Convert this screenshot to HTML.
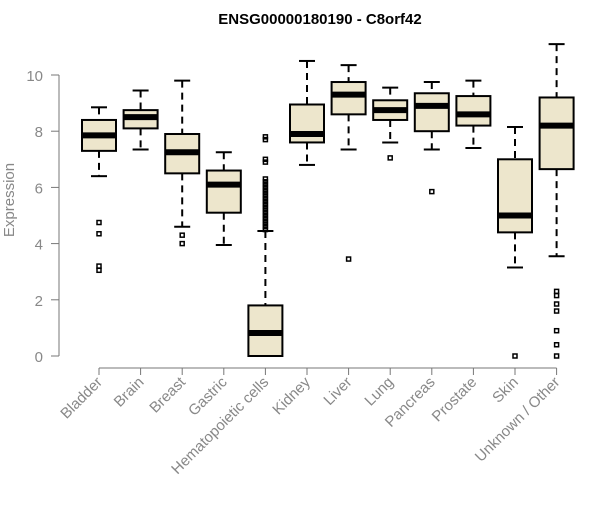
<!DOCTYPE html>
<html><head><meta charset="utf-8"><style>body{margin:0;background:#fff}svg{font-family:"Liberation Sans",Arial,sans-serif}</style></head>
<body>
<svg id="chart" width="600" height="500">
<text x="320" y="24" text-anchor="middle" font-weight="bold" font-size="15">ENSG00000180190 - C8orf42</text>
<text transform="translate(14,200) rotate(-90)" text-anchor="middle" font-size="15" fill="#888">Expression</text>
<g id="plot"></g>
</svg>
<script>
const categories=["Bladder","Brain","Breast","Gastric","Hematopoietic cells","Kidney","Liver","Lung","Pancreas","Prostate","Skin","Unknown / Other"];
const whiskerLow=[6.4,7.35,4.6,3.95,0,6.8,7.35,7.6,7.35,7.4,3.15,3.55];
const q1=[7.3,8.1,6.5,5.1,0,7.6,8.6,8.4,8.0,8.2,4.4,6.65];
const medians=[7.85,8.5,7.25,6.1,0.82,7.9,9.3,8.75,8.9,8.6,5.0,8.2];
const q3=[8.4,8.75,7.9,6.6,1.8,8.95,9.75,9.1,9.35,9.25,7.0,9.2];
const whiskerHigh=[8.85,9.45,9.8,7.25,4.45,10.5,10.35,9.55,9.75,9.8,8.15,11.1];
const outliers=[[4.75,4.35,3.2,3.05],[],[4.3,4.0],[],[4.5,4.6,4.7,4.8,4.9,5.0,5.1,5.2,5.3,5.4,5.5,5.6,5.7,5.8,5.9,6.0,6.1,6.2,6.3,6.9,7.0,7.7,7.8],[],[3.45],[7.05],[5.85],[],[0],[2.3,2.15,1.85,1.6,0.9,0.4,0.0]];
const yTicks=[0,2,4,6,8,10];
const NS="http://www.w3.org/2000/svg";
const g=document.getElementById('plot');
const y=v=>356-28.1*v;
const x=i=>99+i*41.6;
function mk(t,a){const e=document.createElementNS(NS,t);for(const k in a)e.setAttribute(k,a[k]);g.appendChild(e);return e;}
let ax=mk('line',{x1:59,x2:59,y1:y(0),y2:y(10),stroke:'#777'});


yTicks.forEach(v=>{
 const t=mk('line',{x1:51,x2:59,y1:y(v),y2:y(v),stroke:'#777'});
 
 
 const l=mk('text',{x:43,y:y(v)+6,'text-anchor':'end','font-size':15,fill:'#888'});
 l.textContent=v;
 
 
});
let xa=mk('line',{x1:x(0),x2:x(11),y1:368,y2:368,stroke:'#777'});


categories.forEach((c,i)=>{
 const cx=x(i),w=17;
 const t=mk('line',{x1:cx,x2:cx,y1:368,y2:375,stroke:'#777'});
 
 
 const l=mk('text',{x:0,y:0,'text-anchor':'end','font-size':15,fill:'#888',transform:`translate(${cx+4},${383}) rotate(-45)`});
 l.textContent=c;
 
 
 const wl=mk('line',{x1:cx,x2:cx,y1:y(whiskerHigh[i]),y2:y(q3[i]),stroke:'#000','stroke-width':2,'stroke-dasharray':'7,5'});
 
 
 const wl2=mk('line',{x1:cx,x2:cx,y1:y(q1[i]),y2:y(whiskerLow[i]),stroke:'#000','stroke-width':2,'stroke-dasharray':'7,5'});
 
 
 [whiskerHigh[i],whiskerLow[i]].forEach(v=>{
  const cp=mk('line',{x1:cx-8,x2:cx+8,y1:y(v),y2:y(v),stroke:'#000','stroke-width':2});
  
  
 });
 const b=mk('rect',{x:cx-w,y:y(q3[i]),width:2*w,height:y(q1[i])-y(q3[i]),fill:'#ede6cc',stroke:'#000','stroke-width':2});
 
 
 const m=mk('line',{x1:cx-w,x2:cx+w,y1:y(medians[i]),y2:y(medians[i]),stroke:'#000','stroke-width':6});
 
 
 outliers[i].forEach(v=>{
  const o=mk('rect',{x:cx-2,y:y(v)-2,width:4,height:4,fill:'none',stroke:'#000','stroke-width':1.5});
  
  
 });
});
</script>
</body></html>
